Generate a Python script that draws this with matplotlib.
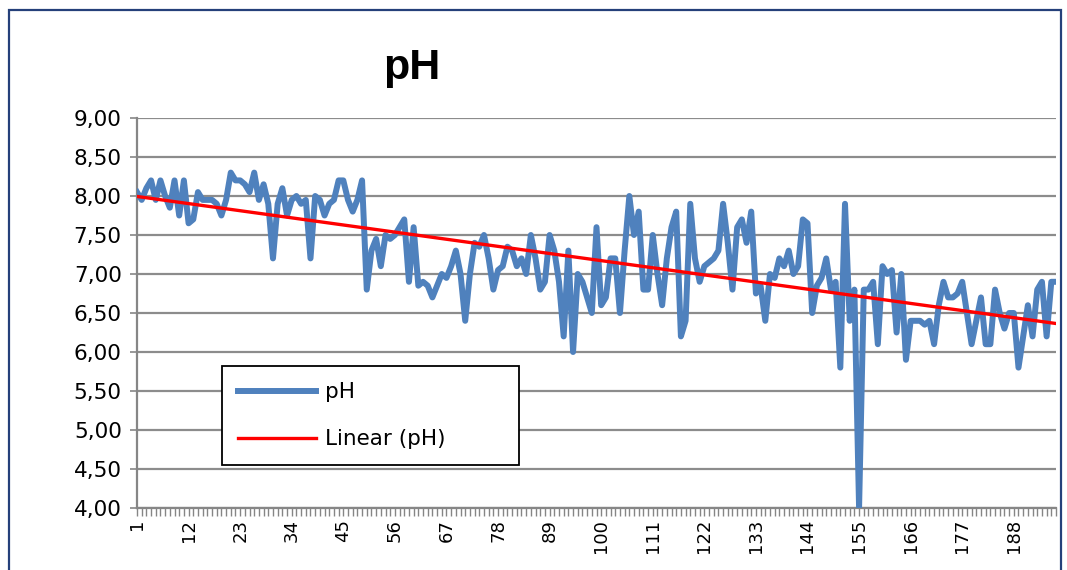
import numpy as np
import matplotlib
matplotlib.use("Agg")
import matplotlib.pyplot as plt
from matplotlib.patches import Rectangle
from matplotlib.ticker import FuncFormatter, MultipleLocator

# pH readings, one per sample (1..197)
ph_values = [
    8.05, 7.95, 8.10, 8.20, 7.95, 8.20, 8.00, 7.85, 8.20, 7.75, 8.20,
    7.65, 7.70, 8.05, 7.95, 7.95, 7.95, 7.90, 7.75, 7.95, 8.30, 8.20,
    8.20, 8.15, 8.05, 8.30, 7.95, 8.15, 7.90, 7.20, 7.90, 8.10, 7.75,
    7.95, 8.00, 7.90, 7.95, 7.20, 8.00, 7.95, 7.75, 7.90, 7.95, 8.20,
    8.20, 7.95, 7.80, 7.95, 8.20, 6.80, 7.30, 7.45, 7.10, 7.50, 7.45,
    7.50, 7.60, 7.70, 6.90, 7.60, 6.85, 6.90, 6.85, 6.70, 6.85, 7.00,
    6.95, 7.10, 7.30, 7.00, 6.40, 7.00, 7.40, 7.35, 7.50, 7.20, 6.80,
    7.05, 7.10, 7.35, 7.30, 7.10, 7.20, 7.00, 7.50, 7.20, 6.80, 6.90,
    7.50, 7.30, 6.90, 6.20, 7.30, 6.00, 7.00, 6.90, 6.70, 6.50, 7.60,
    6.60, 6.70, 7.20, 7.20, 6.50, 7.30, 8.00, 7.50, 7.80, 6.80, 6.80,
    7.50, 7.00, 6.60, 7.20, 7.60, 7.80, 6.20, 6.40, 7.90, 7.20, 6.90,
    7.10, 7.15, 7.20, 7.30, 7.90, 7.40, 6.80, 7.60, 7.70, 7.40, 7.80,
    6.75, 6.85, 6.40, 7.00, 6.95, 7.20, 7.10, 7.30, 7.00, 7.10, 7.70,
    7.65, 6.50, 6.85, 6.95, 7.20, 6.80, 6.90, 5.80, 7.90, 6.40, 6.80,
    4.00, 6.80, 6.80, 6.90, 6.10, 7.10, 7.00, 7.05, 6.25, 7.00, 5.90,
    6.40, 6.40, 6.40, 6.35, 6.40, 6.10, 6.60, 6.90, 6.70, 6.70, 6.75,
    6.90, 6.50, 6.10, 6.40, 6.70, 6.10, 6.10, 6.80, 6.50, 6.30, 6.50,
    6.50, 5.80, 6.20, 6.60, 6.20, 6.80, 6.90, 6.20, 6.90, 6.90,
]
sample_no = np.arange(1, len(ph_values) + 1)

label_step = 11
y_ticks = np.arange(4.0, 9.01, 0.5)

W, H = 1067, 570
fig = plt.figure(figsize=(W / 100, H / 100), dpi=100)
fig.patch.set_facecolor("white")

# outer chart frame
fig.patches.append(Rectangle((9 / W, -0.05), 1052 / W, 1.05 - 10 / H,
                             transform=fig.transFigure, fill=False,
                             edgecolor="#25407A", linewidth=1.6))

ax = fig.add_axes([137 / W, 1 - 508 / H, (1056 - 137) / W, (508 - 118) / H])

ax.plot(sample_no, ph_values, color="#4F81BD", linewidth=4.3,
        solid_joinstyle="round", label="pH", zorder=3)

# linear trend
slope, intercept = np.polyfit(sample_no, ph_values, 1)
ax.plot(sample_no, slope * sample_no + intercept, color="#FF0000",
        linewidth=2.4, label="Linear (pH)", zorder=4)

ax.set_xlim(1, len(ph_values))
ax.set_ylim(4.0, 9.0)
ax.set_yticks(y_ticks)
ax.yaxis.set_major_formatter(FuncFormatter(lambda v, p: f"{v:.2f}".replace(".", ",")))

ax.set_xticks(np.arange(1, len(ph_values) + 1, label_step))
ax.xaxis.set_minor_locator(MultipleLocator(1))
ax.tick_params(axis="x", which="both", direction="out", length=6,
               color="#868686", width=1.0)
ax.tick_params(axis="x", which="major", labelsize=13, labelrotation=90, pad=2)
ax.tick_params(axis="y", direction="out", length=5, color="#868686",
               width=1.2, labelsize=15.5, pad=6)

ax.grid(axis="y", color="#8C8C8C", linewidth=1.6)
ax.set_axisbelow(True)
for side in ("top", "right"):
    ax.spines[side].set_visible(False)
for side in ("left", "bottom"):
    ax.spines[side].set_color("#868686")
    ax.spines[side].set_linewidth(1.6)

fig.text(412 / W, 1 - 68 / H, "pH", fontsize=31, fontweight="bold",
         family="Liberation Sans", ha="center", va="center")

leg = ax.legend(loc="upper left", mode="expand",
                bbox_to_anchor=(222 / W, 1 - 366 / H, (519 - 222) / W, 0),
                bbox_transform=fig.transFigure, fontsize=15.5, frameon=True,
                fancybox=False, handlelength=3.6, handletextpad=0.45,
                labelspacing=1.25, borderpad=0.75, borderaxespad=0)
leg.get_frame().set_edgecolor("black")
leg.get_frame().set_linewidth(1.3)
leg.get_frame().set_alpha(1)

fig.savefig("out.png", dpi=100)
